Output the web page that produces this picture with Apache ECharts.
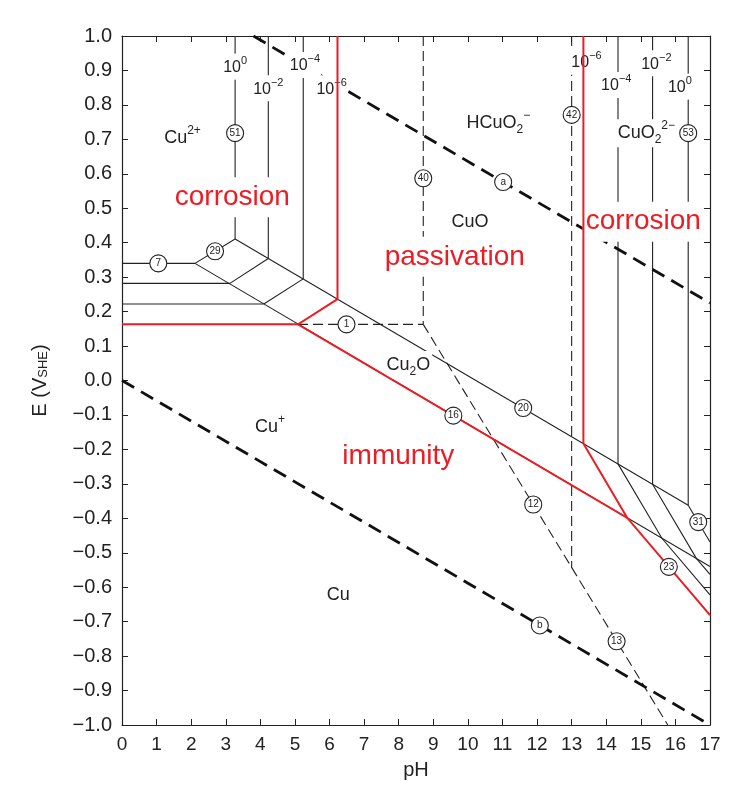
<!DOCTYPE html>
<html><head><meta charset="utf-8">
<script src="https://cdn.jsdelivr.net/npm/echarts@6/dist/echarts.min.js"></script>
<style>html,body{margin:0;padding:0;background:#fff}#c{width:729px;height:796px}</style>
</head><body><div id="c"></div>
<script>
const FONT = '"Liberation Sans", Arial, Helvetica, sans-serif';
const pHRange = [0, 17];
const eRange = [-1.0, 1.0];

// water stability lines (a) and (b)
const waterLines = [
  [[3.8, 1.0], [17, 0.225]],
  [[0, 0.0], [17, -1.0]]
];
// thin solid black boundaries
const blackLines = [
  [[0, 0.340], [2.11, 0.340]],
  [[0, 0.282], [3.12, 0.282]],
  [[0, 0.222], [4.10, 0.222]],
  [[2.11, 0.340], [3.27, 0.411]],
  [[3.12, 0.282], [4.23, 0.354]],
  [[4.10, 0.222], [5.24, 0.295]],
  [[3.27, 0.411], [3.27, 1.0]],
  [[4.23, 0.354], [4.23, 1.0]],
  [[5.24, 0.295], [5.24, 1.0]],
  [[2.11, 0.340], [17, -0.540]],
  [[3.27, 0.411], [16.37, -0.362]],
  [[14.34, -0.242], [14.34, 1.0]],
  [[15.34, -0.301], [15.34, 1.0]],
  [[16.37, -0.362], [16.37, 1.0]],
  [[14.34, -0.242], [15.61, -0.458], [17, -0.622]],
  [[15.34, -0.301], [16.61, -0.517], [17, -0.563]],
  [[16.37, -0.362], [17, -0.469]]
];
// thin dashed boundaries
const dashedLines = [
  [[8.71, 1.0], [8.71, 0.163]],
  [[5.09, 0.163], [8.71, 0.163]],
  [[8.71, 0.163], [15.78, -1.0]],
  [[13.0, 1.0], [13.0, -0.544]]
];
// red corrosion / passivation / immunity boundary (10^-6)
const redLines = [
  [[0, 0.163], [5.09, 0.163], [6.23, 0.236], [6.23, 1.0]],
  [[5.09, 0.163], [14.61, -0.399], [17, -0.681]],
  [[13.34, 1.0], [13.34, -0.183], [14.61, -0.399]]
];
// circled line numbers
const circleMarks = [
  [3.27, 0.718, '51'], [1.05, 0.340, '7'], [2.69, 0.375, '29'], [6.49, 0.163, '1'],
  [8.71, 0.587, '40'], [11.02, 0.576, 'a'], [13.0, 0.771, '42'], [16.37, 0.718, '53'],
  [9.58, -0.102, '16'], [11.6, -0.080, '20'], [11.89, -0.360, '12'], [16.66, -0.411, '31'],
  [15.81, -0.541, '23'], [12.08, -0.711, 'b'], [14.3, -0.757, '13']
];
// species labels
const speciesLabels = [
  [1.75, 0.705, '{n|Cu}{sup|2+}'],
  [10.88, 0.747, '{n|HCuO}{sub|2}{sup|\u2212}'],
  [10.06, 0.461, '{n|CuO}'],
  [15.16, 0.718, '{n|CuO}{sub|2}{sup|2\u2212}'],
  [8.28, 0.045, '{n|Cu}{sub|2}{n|O}'],
  [4.28, -0.134, '{n|Cu}{sup|+}'],
  [6.25, -0.623, '{n|Cu}']
];
// concentration labels
const concLabels = [
  [3.27, 0.911, '{n|10}{sup|0}'], [4.23, 0.848, '{n|10}{sup|\u22122}'],
  [5.29, 0.916, '{n|10}{sup|\u22124}'], [6.06, 0.848, '{n|10}{sup|\u22126}'],
  [13.43, 0.925, '{n|10}{sup|\u22126}'], [14.29, 0.858, '{n|10}{sup|\u22124}'],
  [15.45, 0.921, '{n|10}{sup|\u22122}'], [16.13, 0.853, '{n|10}{sup|0}']
];
// red region labels
const regionLabels = [
  [3.19, 0.532, 'corrosion'],
  [9.62, 0.359, 'passivation'],
  [15.07, 0.461, 'corrosion'],
  [7.99, -0.221, 'immunity']
];

const RED = '#ec1c24';
const INK = '#222222';

function linesSeries(segs, style, z) {
  return {
    type: 'lines', coordinateSystem: 'cartesian2d', polyline: true, silent: true, z: z,
    lineStyle: style, data: segs.map(c => ({ coords: c }))
  };
}
function richStyles(base, small) {
  return {
    n: { fontSize: base, fontFamily: FONT, color: INK, lineHeight: base + 8, verticalAlign: 'middle' },
    sup: { fontSize: small, fontFamily: FONT, color: INK, lineHeight: small, verticalAlign: 'top' },
    sub: { fontSize: small, fontFamily: FONT, color: INK, lineHeight: small, verticalAlign: 'bottom' }
  };
}
function textSeries(items, labelCfg, z) {
  return {
    type: 'scatter', silent: true, z: z, symbol: 'circle', symbolSize: 0,
    itemStyle: { color: 'rgba(0,0,0,0)', opacity: 1 },
    label: Object.assign({ show: true, position: 'inside', formatter: p => p.value[2] }, labelCfg),
    data: items.map(d => ({ value: d }))
  };
}

const axisCommon = {
  type: 'value', splitLine: { show: false },
  axisLine: { show: true, onZero: false, lineStyle: { color: INK, width: 1.2 } },
  axisTick: { show: true, inside: true, length: 6, lineStyle: { color: INK, width: 1 } }
};

const chart = echarts.init(document.getElementById('c'));
chart.setOption({
  animation: false,
  backgroundColor: '#fff',
  grid: { left: 122, right: 19, top: 36, bottom: 71 },
  xAxis: [
    Object.assign({}, axisCommon, {
      min: pHRange[0], max: pHRange[1], interval: 1, position: 'bottom',
      axisLabel: { fontSize: 19, color: INK, fontFamily: FONT, margin: 10 },
      name: 'pH', nameLocation: 'middle', nameGap: 35,
      nameTextStyle: { fontSize: 20, color: INK, fontFamily: FONT }
    }),
    Object.assign({}, axisCommon, {
      min: pHRange[0], max: pHRange[1], interval: 1, position: 'top', axisLabel: { show: false }
    })
  ],
  yAxis: [
    Object.assign({}, axisCommon, {
      min: eRange[0], max: eRange[1], interval: 0.1, position: 'left',
      axisLabel: {
        fontSize: 20, color: INK, fontFamily: FONT, margin: 10,
        formatter: v => (v < -1e-9 ? '\u2212' : '') + Math.abs(v).toFixed(1)
      },
      name: 'E (V{s|SHE})', nameLocation: 'middle', nameGap: 72, nameRotate: 90,
      nameTextStyle: {
        fontSize: 20, color: INK, fontFamily: FONT,
        rich: { s: { fontSize: 13, color: INK, fontFamily: FONT, lineHeight: 13, verticalAlign: 'bottom' } }
      }
    }),
    Object.assign({}, axisCommon, {
      min: eRange[0], max: eRange[1], interval: 0.1, position: 'right', axisLabel: { show: false }
    })
  ],
  series: [
    linesSeries(blackLines, { color: INK, width: 1.1, type: 'solid', opacity: 1 }, 2),
    linesSeries(dashedLines, { color: INK, width: 1.1, type: [10, 5], opacity: 1 }, 2),
    linesSeries(waterLines, { color: '#111', width: 2.8, type: [14, 8], opacity: 1 }, 3),
    textSeries(concLabels, {
      backgroundColor: '#fff', padding: [2, 1, 0, 1], rich: richStyles(16, 11)
    }, 4),
    textSeries(speciesLabels, {
      backgroundColor: '#fff', padding: [1, 2], rich: richStyles(18, 12)
    }, 4),
    textSeries(regionLabels, {
      backgroundColor: '#fff', padding: [6, 3], fontSize: 28, color: RED, fontFamily: FONT
    }, 4),
    linesSeries(redLines, { color: RED, width: 2, type: 'solid', opacity: 1 }, 5),
    {
      type: 'scatter', silent: true, z: 6, symbol: 'circle', symbolSize: 17,
      itemStyle: { color: '#fff', borderColor: INK, borderWidth: 1.1, opacity: 1 },
      label: { show: true, position: 'inside', formatter: p => p.value[2], fontSize: 10, color: INK, fontFamily: FONT },
      data: circleMarks.map(d => ({ value: d }))
    }
  ]
});
</script></body></html>
